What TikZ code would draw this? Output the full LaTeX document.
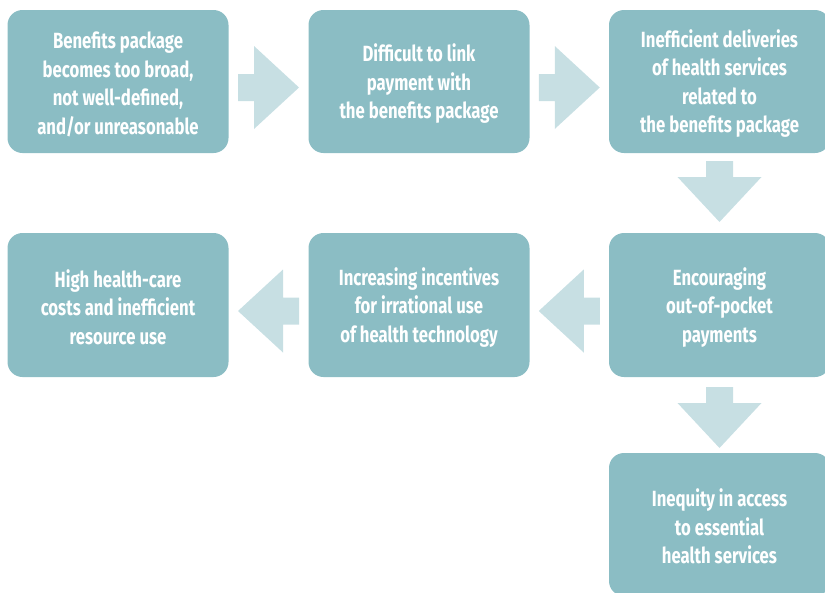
\documentclass[tikz,border=0pt]{standalone}
\usepackage{fontspec}
\newfontfamily\boxfont{Fira Sans}[FakeStretch=0.76]
\usetikzlibrary{calc}
\definecolor{boxfill}{HTML}{8BBDC4}
\definecolor{arrowfill}{HTML}{C7DFE3}
\newcommand\tstrut{\rule{0pt}{22pt}}
\tikzset{
  stepbox/.style={fill=boxfill, draw=none, rounded corners=15pt, minimum width=221pt,
    minimum height=143pt, align=center, text=white, inner sep=0pt,
    font={\boxfont\bfseries\fontsize{22}{28.5}\selectfont}},
  arrowshape/.style={fill=arrowfill, draw=none}
}
\newcommand\rightfat[1]{\fill[arrowshape, shift={(#1)}] (-30.5,-13.5) -- (-14.5,-13.5) -- (-14.5,-41.5) -- (30.5,0) -- (-14.5,41.5) -- (-14.5,13.5) -- (-30.5,13.5) -- cycle;}
\newcommand\leftfat[1]{\fill[arrowshape, shift={(#1)}] (30.5,-13.5) -- (14.5,-13.5) -- (14.5,-41.5) -- (-30.5,0) -- (14.5,41.5) -- (14.5,13.5) -- (30.5,13.5) -- cycle;}
\newcommand\downfat[1]{\fill[arrowshape, shift={(#1)}] (-13.5,-30.5) -- (-13.5,-14.5) -- (-42,-14.5) -- (0,30.5) -- (42,-14.5) -- (13.5,-14.5) -- (13.5,-30.5) -- cycle;}
\begin{document}
\begin{tikzpicture}[x=1pt,y=-1pt]
\useasboundingbox (0,0) rectangle (825,592);
\clip (0,0) rectangle (825,592);
\node[stepbox] (b1) at (118,81.5) {\tstrut Benefits package\\becomes too broad,\\not well-defined,\\and/or unreasonable};
\node[stepbox] (b2) at (419,81.5) {\tstrut Difficult to link\\payment with\\the benefits package};
\node[stepbox] (b3) at (719.5,81.5) {\tstrut Inefficient deliveries\\of health services\\related to\\the benefits package};
\node[stepbox, minimum height=144pt] (b4) at (118,305) {\tstrut High health-care\\costs and inefficient\\resource use};
\node[stepbox, minimum height=144pt] (b5) at (419,305) {\tstrut Increasing incentives\\for irrational use\\of health technology};
\node[stepbox, minimum height=144pt] (b6) at (719.5,305) {\tstrut Encouraging\\out-of-pocket\\payments};
\node[stepbox] (b7) at (719.5,524.5) {\tstrut Inequity in access\\to essential\\health services};
\coordinate (m12) at ($(b1.east)!0.5!(b2.west)+(0,6)$);
\coordinate (m23) at ($(b2.east)!0.5!(b3.west)+(0,6)$);
\coordinate (m36) at ($(b3.south)!0.5!(b6.north)+(0,-1.5)$);
\coordinate (m65) at ($(b6.west)!0.5!(b5.east)+(0,6)$);
\coordinate (m54) at ($(b5.west)!0.5!(b4.east)+(0,6)$);
\coordinate (m67) at ($(b6.south)!0.5!(b7.north)+(0,2.5)$);
\rightfat{m12}
\rightfat{m23}
\downfat{m36}
\leftfat{m65}
\leftfat{m54}
\downfat{m67}
\end{tikzpicture}
\end{document}
